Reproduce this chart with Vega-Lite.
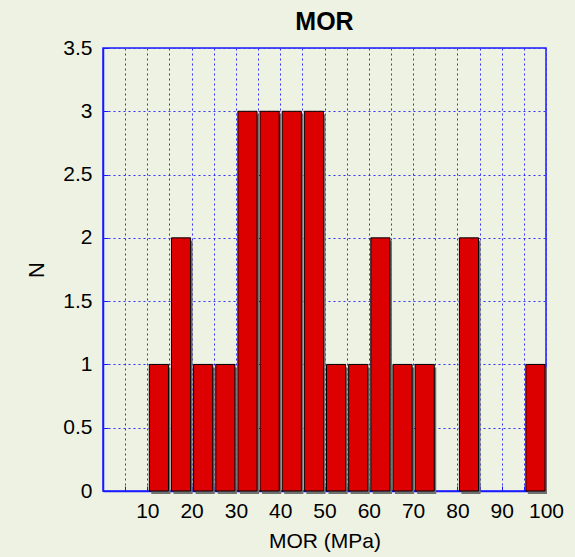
{
  "$schema": "https://vega.github.io/schema/vega-lite/v6.json",
  "width": 443,
  "height": 443,
  "autosize": {"type": "none"},
  "padding": {"left": 103, "top": 48, "right": 29, "bottom": 66},
  "background": "#eef2e3",
  "title": {"text": "MOR", "font": "Arial", "fontSize": 25, "fontWeight": "bold", "color": "#000000", "offset": 2, "anchor": "middle"},
  "config": {
    "view": {"stroke": "#1a1aff", "strokeWidth": 1.5, "fill": null}
  },
  "data": {"values": [
    {"start": 10, "end": 15, "n": 1},
    {"start": 15, "end": 20, "n": 2},
    {"start": 20, "end": 25, "n": 1},
    {"start": 25, "end": 30, "n": 1},
    {"start": 30, "end": 35, "n": 3},
    {"start": 35, "end": 40, "n": 3},
    {"start": 40, "end": 45, "n": 3},
    {"start": 45, "end": 50, "n": 3},
    {"start": 50, "end": 55, "n": 1},
    {"start": 55, "end": 60, "n": 1},
    {"start": 60, "end": 65, "n": 2},
    {"start": 65, "end": 70, "n": 1},
    {"start": 70, "end": 75, "n": 1},
    {"start": 75, "end": 80, "n": 0},
    {"start": 80, "end": 85, "n": 2},
    {"start": 85, "end": 90, "n": 0},
    {"start": 90, "end": 95, "n": 0},
    {"start": 95, "end": 100, "n": 1}
  ]},
  "transform": [{"filter": "datum.n > 0"}],
  "encoding": {
    "x": {"field": "start", "type": "quantitative", "bin": {"binned": true, "step": 5},
      "scale": {"domain": [0, 100], "nice": false},
      "axis": {"title": "MOR (MPa)", "grid": true, "values": [0,5,10,15,20,25,30,35,40,45,50,55,60,65,70,75,80,85,90,95,100],
        "labelExpr": "datum.value % 10 == 0 && datum.value > 0 ? datum.label : ''",
        "labelPadding": 14, "titlePadding": 9, "labelFlush": false,
        "labelFont": "Arial", "labelFontSize": 21, "labelColor": "#000000",
        "titleFont": "Arial", "titleFontSize": 21, "titleFontWeight": "normal", "titleColor": "#000000",
        "gridColor": "#3030ff", "gridDash": [2, 3], "gridOpacity": 1, "gridWidth": 1,
        "domainColor": "#1a1aff", "domainWidth": 1.5,
        "tickColor": "#1a1aff", "tickSize": -5}},
    "x2": {"field": "end"},
    "y": {"field": "n", "type": "quantitative",
      "scale": {"domain": [0, 3.5], "nice": false},
      "axis": {"title": "N", "grid": true, "format": "~g", "values": [0,0.5,1,1.5,2,2.5,3,3.5], "labelPadding": 16, "titlePadding": 14, "labelFlush": false,
        "labelFont": "Arial", "labelFontSize": 21, "labelColor": "#000000",
        "titleFont": "Arial", "titleFontSize": 22, "titleFontWeight": "normal", "titleColor": "#000000",
        "gridColor": "#3030ff", "gridDash": [2, 3], "gridOpacity": 1, "gridWidth": 1,
        "domainColor": "#1a1aff", "domainWidth": 1.5,
        "tickColor": "#1a1aff", "tickSize": -5}}
  },
  "layer": [
    {"mark": {"type": "bar", "color": "#707070", "binSpacing": 3, "xOffset": 2, "yOffset": 3, "y2Offset": 0}},
    {"mark": {"type": "bar", "color": "#dd0000", "stroke": "#000000", "strokeWidth": 1, "binSpacing": 3}}
  ]
}
